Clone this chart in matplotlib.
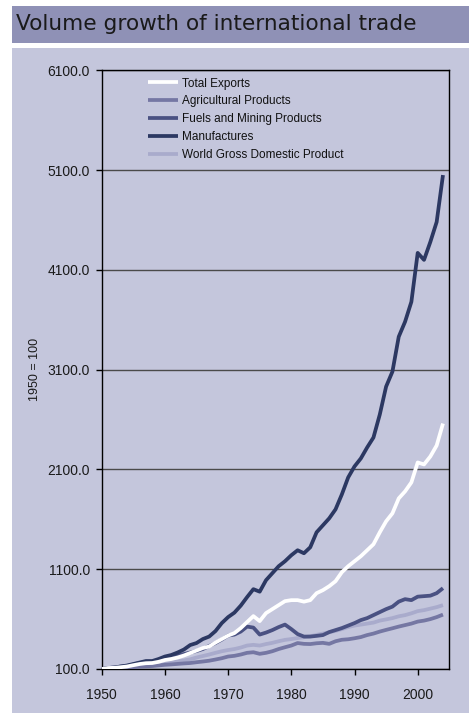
import matplotlib
matplotlib.use("Agg")
import matplotlib.pyplot as plt
from matplotlib.patches import Rectangle
from matplotlib.ticker import FormatStrFormatter, FixedLocator

years = list(range(1950, 2005))

total_exports = [100, 110, 112, 118, 125, 138, 150, 158, 160, 172,
                 190, 200, 215, 235, 260, 285, 310, 325, 365, 400,
                 435, 460, 510, 570, 630, 580, 660, 700, 740, 780,
                 790, 790, 775, 790, 860, 890, 930, 980, 1070, 1130,
                 1180, 1230, 1290, 1350, 1470, 1580, 1660, 1810, 1880, 1970,
                 2170, 2150, 2230, 2340, 2560]

agricultural = [100, 103, 106, 110, 113, 118, 123, 127, 130, 136,
                142, 146, 151, 156, 160, 168, 175, 183, 195, 208,
                225, 232, 245, 262, 268, 252, 262, 278, 300, 318,
                335, 360, 352, 350, 358, 362, 352, 378, 393, 398,
                408, 420, 440, 455, 475, 492, 508, 525, 540, 555,
                575, 585, 600, 620, 645]

fuels_mining = [100, 110, 115, 125, 130, 145, 160, 170, 172, 185,
                205, 215, 235, 250, 265, 280, 300, 330, 360, 395,
                435, 445, 475, 525, 515, 445, 465, 490, 520, 545,
                500, 450, 425, 425, 432, 440, 470, 490, 510, 535,
                560, 590, 610, 640, 670, 700, 725, 775, 800, 790,
                825, 830, 835, 860, 910]

manufactures = [100, 110, 115, 125, 135, 150, 165, 180, 180, 200,
                225, 240, 265, 295, 340, 360, 400, 425, 480, 560,
                620, 665, 735, 820, 900, 875, 990, 1060, 1130, 1180,
                1240, 1290, 1260, 1320, 1470, 1540, 1610, 1700, 1850, 2020,
                2130, 2210, 2320, 2420, 2650, 2930, 3080, 3430, 3580, 3780,
                4270, 4200, 4380, 4580, 5050]

world_gdp = [100, 106, 110, 115, 120, 127, 133, 138, 142, 150,
             160, 167, 176, 185, 197, 215, 230, 245, 262, 278,
             290, 300, 315, 335, 342, 335, 350, 362, 378, 392,
             400, 410, 418, 428, 442, 455, 468, 482, 500, 520,
             535, 545, 555, 565, 585, 597, 610, 628, 640, 658,
             680, 690, 705, 720, 740]

series_names = ["Total Exports", "Agricultural Products", "Fuels and Mining Products",
                "Manufactures", "World Gross Domestic Product"]
series_values = [total_exports, agricultural, fuels_mining, manufactures, world_gdp]
series_colors = ["#ffffff", "#7577a3", "#4a5182", "#2c3862", "#a9abcc"]
draw_order = [4, 1, 2, 3, 0]

y_ticks = [100, 1100, 2100, 3100, 4100, 5100, 6100]
x_ticks = [1950, 1960, 1970, 1980, 1990, 2000]

title_text = "Volume growth of international trade"
y_label = "1950 = 100"

W, H = 474, 713
fig = plt.figure(figsize=(W / 100, H / 100), dpi=100)
fig.patch.set_facecolor("white")

panel_bg = "#c4c6dc"
band_bg = "#8f91b6"

# header band and chart panel, kept behind the axes
fig.patches.append(Rectangle((12 / W, 1 - 43 / H), (469 - 12) / W, 37 / H,
                             transform=fig.transFigure, facecolor=band_bg,
                             edgecolor="none", zorder=-5))
fig.patches.append(Rectangle((12 / W, 0), (469 - 12) / W, 1 - 48 / H,
                             transform=fig.transFigure, facecolor=panel_bg,
                             edgecolor="none", zorder=-5))

fig.text(16 / W, 1 - 24.5 / H, title_text, family="DejaVu Sans", fontsize=15.6,
         color="#1a1a1a", va="center", ha="left")

left, right = 101.7 / W, 449.3 / W
top, bottom = 1 - 70.3 / H, 1 - 669 / H
ax = fig.add_axes([left, bottom, right - left, top - bottom])
ax.set_facecolor(panel_bg)
ax.set_zorder(1)

lines = {}
for k, i in enumerate(draw_order):
    ln, = ax.plot(years, series_values[i], color=series_colors[i], lw=2.7,
                  solid_joinstyle="round", solid_capstyle="butt", zorder=3 + k)
    lines[i] = ln

ax.set_xlim(1950, 2005)
ax.set_ylim(100, 6100)
ax.yaxis.set_major_locator(FixedLocator(y_ticks))
ax.xaxis.set_major_locator(FixedLocator(x_ticks))
ax.yaxis.set_major_formatter(FormatStrFormatter("%.1f"))
ax.grid(axis="y", color="#4a4a4a", lw=1.0, zorder=1)
ax.set_axisbelow(True)

for s in ax.spines.values():
    s.set_color("black")
    s.set_linewidth(1.0)

ax.tick_params(axis="both", direction="out", length=4.5, width=1.0, color="black",
               labelsize=10, labelcolor="#1a1a1a")
ax.tick_params(axis="y", pad=4)
ax.tick_params(axis="x", pad=9)
for lbl in ax.get_xticklabels() + ax.get_yticklabels():
    lbl.set_family("Liberation Sans")

ax.set_ylabel(y_label, family="Liberation Sans", fontsize=9, color="#1a1a1a", labelpad=4.5)

handles = [lines[i] for i in range(5)]
leg = fig.legend(handles, series_names, loc="upper left",
                 bbox_to_anchor=(148 / W, 1 - 77.5 / H), bbox_transform=fig.transFigure,
                 frameon=False, borderpad=0, borderaxespad=0,
                 handlelength=2.55, handletextpad=0.3, labelspacing=0.5,
                 prop={"family": "Liberation Sans", "size": 8.5})
leg.set_zorder(10)
for t in leg.get_texts():
    t.set_color("#111111")

fig.savefig("out.png", dpi=100, facecolor=fig.get_facecolor())
